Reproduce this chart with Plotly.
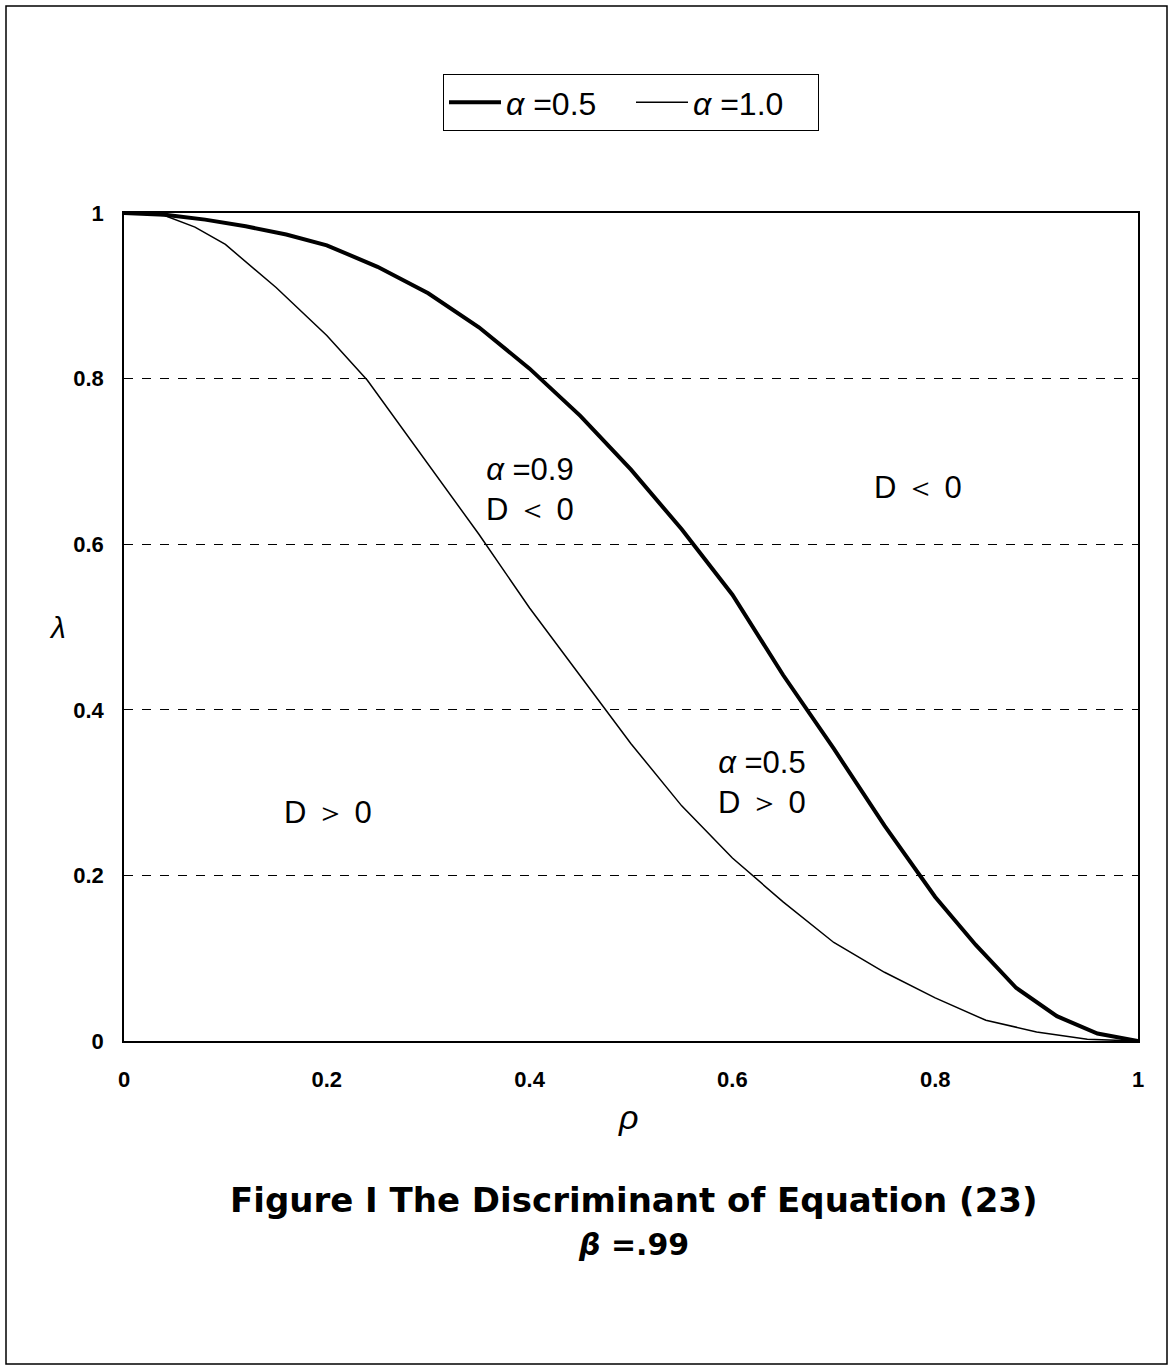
import plotly.graph_objects as go

# alpha = 0.5 (thick)
rho_a05 = [0, 0.04, 0.08, 0.12, 0.16, 0.2, 0.25, 0.3, 0.35, 0.4, 0.45, 0.5,
           0.55, 0.6, 0.65, 0.7, 0.75, 0.8, 0.84, 0.88, 0.92, 0.96, 1.0]
lam_a05 = [1, 0.998, 0.992, 0.984, 0.974, 0.961, 0.935, 0.903, 0.862, 0.812,
           0.755, 0.690, 0.618, 0.539, 0.442, 0.353, 0.260, 0.174, 0.116,
           0.064, 0.030, 0.009, 0]

# alpha = 1.0 (thin)
rho_a10 = [0, 0.04, 0.07, 0.1, 0.15, 0.2, 0.24, 0.3, 0.35, 0.4, 0.45, 0.5,
           0.55, 0.6, 0.65, 0.7, 0.75, 0.8, 0.85, 0.9, 0.95, 1.0]
lam_a10 = [1, 0.997, 0.983, 0.962, 0.910, 0.852, 0.798, 0.696, 0.612, 0.523,
           0.441, 0.359, 0.284, 0.221, 0.168, 0.119, 0.083, 0.052, 0.025,
           0.011, 0.002, 0]

tick_vals = [0, 0.2, 0.4, 0.6, 0.8, 1]
tick_text = ["0", "0.2", "0.4", "0.6", "0.8", "1"]

FONT = "Liberation Sans, Arial, sans-serif"
TFONT = "DejaVu Sans, sans-serif"

fig = go.Figure()
fig.add_trace(go.Scatter(x=rho_a05, y=lam_a05, mode="lines",
                         name="<i>α</i> =0.5",
                         line=dict(color="black", width=4)))
fig.add_trace(go.Scatter(x=rho_a10, y=lam_a10, mode="lines",
                         name="<i>α</i> =1.0",
                         line=dict(color="black", width=1.5)))

W, H = 1171, 1369
L, R, T, B = 124, 1138, 213, 1041
fig.update_layout(
    width=W, height=H,
    margin=dict(l=L, r=W - R, t=T, b=H - B, pad=0),
    paper_bgcolor="white", plot_bgcolor="white",
    font=dict(family=FONT, color="black"),
    showlegend=True,
    legend=dict(orientation="h", x=0.5, xanchor="center", y=1.168, yanchor="top",
                bordercolor="black", borderwidth=1, bgcolor="white",
                font=dict(size=32, family=FONT), itemwidth=52, entrywidth=120,
                tracegroupgap=0),
)
fig.update_xaxes(range=[0, 1], tickvals=tick_vals, ticktext=tick_text,
                 tickfont=dict(size=22, family=FONT, weight="bold"),
                 showgrid=False, zeroline=False, showline=True, linecolor="black",
                 linewidth=1.5, mirror=True, ticks="", ticklabelstandoff=18)
fig.update_yaxes(range=[0, 1], tickvals=tick_vals, ticktext=tick_text,
                 tickfont=dict(size=22, family=FONT, weight="bold"),
                 showgrid=True, gridcolor="black", gridwidth=1, griddash="dash",
                 zeroline=False, showline=True, linecolor="black",
                 linewidth=1.5, mirror=True, ticks="", ticklabelstandoff=14)

def px_x(p):
    return (p - L) / (R - L)

def px_y(p):
    return (B - p) / (B - T)

# outer frame
fig.add_shape(type="rect", xref="paper", yref="paper",
              x0=px_x(6), x1=px_x(1167), y0=px_y(1364), y1=px_y(6),
              line=dict(color="black", width=1.5), fillcolor="rgba(0,0,0,0)")

ann_font = dict(size=31, family=FONT, color="black")
fig.add_annotation(x=0.40, y=0.666, xref="x", yref="y", showarrow=False,
                   text="<i>α</i> =0.9<br>D ＜ 0", font=ann_font, align="center")
fig.add_annotation(x=0.783, y=0.668, xref="x", yref="y", showarrow=False,
                   text="D ＜ 0", font=ann_font, align="center")
fig.add_annotation(x=0.629, y=0.312, xref="x", yref="y", showarrow=False,
                   text="<i>α</i> =0.5<br>D ＞ 0", font=ann_font, align="center")
fig.add_annotation(x=0.201, y=0.276, xref="x", yref="y", showarrow=False,
                   text="D ＞ 0", font=ann_font, align="center")

# axis titles
fig.add_annotation(x=px_x(628), y=px_y(1138), xref="paper", yref="paper",
                   showarrow=False, text="<i>ρ</i>",
                   font=dict(size=34, family=FONT))
fig.add_annotation(x=px_x(47), y=px_y(627), xref="paper", yref="paper",
                   showarrow=False, text="<i>λ</i>",
                   font=dict(size=30, family=FONT))

# figure title
fig.add_annotation(x=px_x(633), y=px_y(1222), xref="paper", yref="paper",
                   showarrow=False,
                   text="<b>Figure I The Discriminant of Equation (23)</b>",
                   font=dict(size=34, family=TFONT))
fig.add_annotation(x=px_x(633), y=px_y(1264), xref="paper", yref="paper",
                   showarrow=False, text="<b><i>β</i> =.99</b>",
                   font=dict(size=30, family=TFONT))

fig.write_html("out.html")
